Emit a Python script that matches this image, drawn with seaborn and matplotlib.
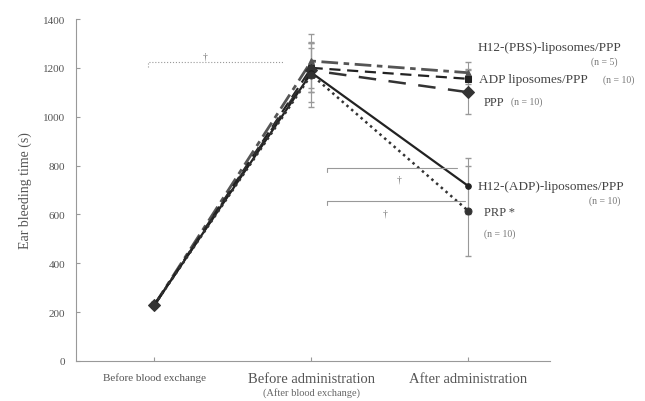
import numpy as np
import pandas as pd
import matplotlib
matplotlib.use('Agg')
import matplotlib.pyplot as plt
import seaborn as sns

# data
stages = ['Before blood exchange', 'Before administration', 'After administration']
groups = ['H12-(PBS)-liposomes/PPP', 'ADP liposomes/PPP', 'PPP',
          'H12-(ADP)-liposomes/PPP', 'PRP']
h12_pbs = [230, 1228, 1180]
adp_lipo = [230, 1200, 1155]
ppp = [230, 1190, 1100]
h12_adp = [230, 1180, 716]
prp = [230, 1172, 614]

h12_pbs_err = [10, 110, 45]
adp_lipo_err = [10, 100, 40]
ppp_err = [10, 90, 90]
h12_adp_err = [10, 120, 115]
prp_err = [10, 132, 185]

values = [h12_pbs, adp_lipo, ppp, h12_adp, prp]
errors = [h12_pbs_err, adp_lipo_err, ppp_err, h12_adp_err, prp_err]

rows = []
for g, v in zip(groups, values):
    for i, s in enumerate(stages):
        rows.append({'group': g, 'stage': i, 'time': v[i]})
df = pd.DataFrame(rows)

sns.set_style('ticks')
plt.rcParams['font.family'] = ['Liberation Serif', 'DejaVu Serif']

fig = plt.figure(figsize=(6.45, 4.02), dpi=100)
ax = fig.add_axes([76 / 645, 40 / 402, (550 - 76) / 645, (362 - 20) / 402])

styles = {
    'H12-(PBS)-liposomes/PPP': dict(ls=(0, (6, 2, 2, 2)), marker='^', color='#555555', lw=2.0, ms=5),
    'ADP liposomes/PPP': dict(ls=(0, (5, 3)), marker='s', color='#222222', lw=1.6, ms=5),
    'PPP': dict(ls=(0, (7, 5)), marker='D', color='#333333', lw=1.8, ms=6),
    'H12-(ADP)-liposomes/PPP': dict(ls='-', marker='o', color='#222222', lw=1.6, ms=4),
    'PRP': dict(ls=(0, (1, 1.5)), marker='o', color='#333333', lw=1.8, ms=5),
}

for g, err in zip(groups, errors):
    sub = df[df['group'] == g]
    st = styles[g]
    sns.lineplot(data=sub, x='stage', y='time', ax=ax, color=st['color'],
                 linewidth=st['lw'], marker=st['marker'], markersize=st['ms'],
                 markeredgecolor=st['color'], legend=False)
    ax.lines[-1].set_linestyle(st['ls'])
    ax.errorbar(sub['stage'], sub['time'], yerr=err, fmt='none', ecolor='#999999',
                elinewidth=0.8, capsize=2, ls=':', zorder=1)

ax.set_xlim(-0.5, 2.52)
ax.set_ylim(0, 1400)
ax.set_yticks(np.arange(0, 1401, 200))
ax.set_xticks(range(len(stages)))
ax.set_xticklabels(['Before blood exchange', 'Before administration', 'After administration'])
for lab, fs in zip(ax.get_xticklabels(), [8, 10.5, 10.5]):
    lab.set_fontsize(fs)
    lab.set_color('#555555')
ax.text(1, -125, '(After blood exchange)', ha='center', va='center', fontsize=7.5, color='#666666')
ax.tick_params(axis='both', direction='in', length=3, color='#999999', labelcolor='#555555', pad=8)
ax.tick_params(axis='y', labelsize=8)
ax.set_xlabel('')
ax.set_ylabel('Ear bleeding time (s)', fontsize=10, color='#555555', labelpad=8)
sns.despine(ax=ax)
for sp in ['left', 'bottom']:
    ax.spines[sp].set_color('#999999')
    ax.spines[sp].set_linewidth(0.8)

# significance brackets
br = '#999999'
ax.plot([-0.04, -0.04, 0.82], [1205, 1225, 1225], color=br, lw=0.8, ls=':')
ax.text(0.32, 1232, '†', ha='center', va='bottom', fontsize=7, color='#777777')
ax.plot([1.1, 1.1, 1.93], [775, 790, 790], color=br, lw=0.8)
ax.text(1.56, 745, '†', ha='center', va='center', fontsize=7, color='#777777')
ax.plot([1.1, 1.1, 1.98], [640, 655, 655], color=br, lw=0.8)
ax.text(1.47, 605, '†', ha='center', va='center', fontsize=7, color='#777777')

# group labels
tc = '#444444'
ax.text(2.06, 1285, 'H12-(PBS)-liposomes/PPP', fontsize=9.5, color=tc, va='center')
ax.text(2.95, 1228, '(n = 5)', fontsize=7, color='#777777', va='center', ha='right')
ax.text(2.07, 1155, 'ADP liposomes/PPP', fontsize=9.5, color=tc, va='center')
ax.text(2.86, 1155, '(n = 10)', fontsize=7, color='#777777', va='center')
ax.text(2.1, 1062, 'PPP', fontsize=9, color=tc, va='center')
ax.text(2.27, 1062, '(n = 10)', fontsize=7, color='#777777', va='center')
ax.text(2.06, 716, 'H12-(ADP)-liposomes/PPP', fontsize=9.5, color=tc, va='center')
ax.text(2.97, 658, '(n = 10)', fontsize=7, color='#777777', va='center', ha='right')
ax.text(2.1, 610, 'PRP *', fontsize=9, color=tc, va='center')
ax.text(2.1, 522, '(n = 10)', fontsize=7, color='#777777', va='center')

for t in ax.texts:
    t.set_clip_on(False)

fig.savefig('out.png', dpi=100)
